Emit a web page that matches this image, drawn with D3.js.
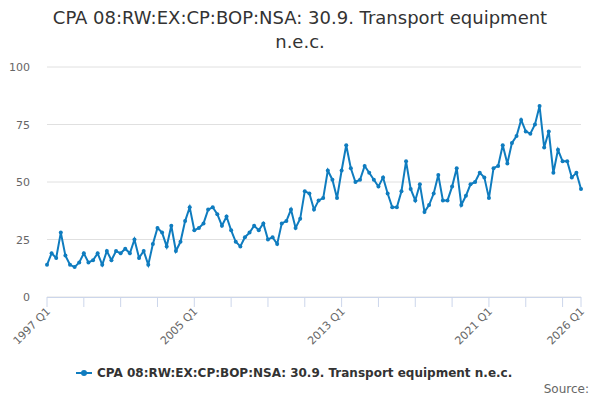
<!DOCTYPE html>
<html>
<head>
<script src="https://cdn.jsdelivr.net/npm/d3@7"></script>
<style>
body{margin:0;font-family:"DejaVu Sans",sans-serif;}
</style>
</head>
<body>
<svg width="600" height="400"></svg>
<script>
const title = ["CPA 08:RW:EX:CP:BOP:NSA: 30.9. Transport equipment", "n.e.c."];
const seriesName = "CPA 08:RW:EX:CP:BOP:NSA: 30.9. Transport equipment n.e.c.";
const startYear = 1997;
const values = [
 14,19,17,28, 18,14,13,15, 19,15,16,19, 14,20,16,20, 19,21,19,25, 17,20,14,23,
 30,28,22,31, 20,24,33,39, 29,30,32,38, 39,36,31,35, 29,24,22,26, 28,31,29,32,
 25,26,23,32, 33,38,30,34, 46,45,38,42, 43,55,51,43, 55,66,56,50, 51,57,54,51,
 48,52,45,39, 39,46,59,47, 42,49,37,40, 45,53,42,42, 48,56,40,44, 49,50,54,52,
 43,56,57,66, 58,67,70,77, 72,71,75,83, 65,72,54,64, 59,59,52,54, 47
];
const yTicks = [0,25,50,75,100];
const labelYears = [1997,2005,2013,2021,2026];

const svg = d3.select("svg");
const color = "#0f7cbf";
const data = values.map((v,i)=>({t: startYear + i/4, v}));

const x = d3.scaleLinear().domain([startYear, 2026]).range([47, 581]);
const y = d3.scaleLinear().domain([0,100]).range([297, 67]);

svg.selectAll(".title").data(title).enter().append("text")
  .attr("x",300).attr("y",(d,i)=>24+i*24).attr("text-anchor","middle")
  .attr("font-size",18).attr("fill","#333").text(d=>d);

svg.selectAll(".grid").data(yTicks).enter().append("line")
  .attr("x1",47).attr("x2",581).attr("y1",d=>y(d)).attr("y2",d=>y(d))
  .attr("stroke","#e0e0e0");
svg.selectAll(".ylab").data(yTicks).enter().append("text")
  .attr("x",30).attr("y",d=>y(d)+4).attr("text-anchor","end")
  .attr("font-size",11).attr("fill","#666").text(d=>d);

svg.append("line").attr("x1",47).attr("x2",581).attr("y1",297.5).attr("y2",297.5).attr("stroke","#ccd6eb");
const ticks = d3.range(1997, 2027, 2).concat([2026]);
svg.selectAll(".xt").data(ticks).enter().append("line")
  .attr("x1",d=>x(d)).attr("x2",d=>x(d)).attr("y1",297).attr("y2",307).attr("stroke","#ccd6eb");
svg.selectAll(".xl").data(labelYears).enter().append("text")
  .attr("transform",d=>`translate(${x(d)+4},${312}) rotate(-45)`)
  .attr("text-anchor","end").attr("font-size",11).attr("fill","#666")
  .text(d=>d+" Q1");

svg.append("path").datum(data)
  .attr("d", d3.line().x(d=>x(d.t)).y(d=>y(d.v)))
  .attr("fill","none").attr("stroke",color).attr("stroke-width",2);
svg.selectAll(".pt").data(data).enter().append("circle")
  .attr("cx",d=>x(d.t)).attr("cy",d=>y(d.v)).attr("r",2).attr("fill",color);

const lg = svg.append("g").attr("transform","translate(76,373)");
lg.append("line").attr("x1",0).attr("x2",16).attr("stroke",color).attr("stroke-width",2);
lg.append("circle").attr("cx",8).attr("r",3).attr("fill",color);
lg.append("text").attr("x",21).attr("y",4).attr("font-size",12).attr("font-weight","bold")
  .attr("fill","#333").text(seriesName);

svg.append("text").attr("x",589).attr("y",393).attr("text-anchor","end")
  .attr("font-size",12).attr("fill","#666").text("Source:");
</script>
</body>
</html>
